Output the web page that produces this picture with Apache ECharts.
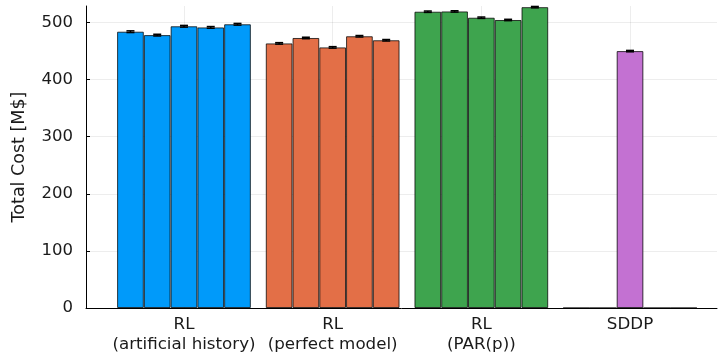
<!DOCTYPE html>
<html>
<head>
<meta charset="utf-8">
<script src="https://cdn.jsdelivr.net/npm/echarts@6/dist/echarts.min.js"></script>
<style>
  html, body { margin: 0; padding: 0; background: #fff; }
  #chart { width: 718px; height: 356px; }
</style>
</head>
<body>
<div id="chart"></div>
<script>
// Group labels on the x axis
const categories = ['RL\n(artificial history)', 'RL\n(perfect model)', 'RL\n(PAR(p))', 'SDDP'];

// Total cost per run [M$], five runs per method
const rlArtificial = [484, 478, 493.5, 491.5, 497];
const rlPerfect    = [463.5, 473, 456.5, 476, 469];
const rlPar        = [519, 519.5, 508.5, 504.5, 527];
const sddp         = [0, 0, 450, 0, 0];

// Standard errors per run
const errArtificial = [1.5, 1.5, 1.5, 1.5, 1.5];
const errPerfect    = [1.3, 1.3, 1.3, 1.3, 1.3];
const errPar        = [1.2, 1.2, 1.2, 1.2, 1.2];
const errSddp       = [0, 0, 1.2, 0, 0];

// Y tick values
const yTicks = [0, 100, 200, 300, 400, 500];

const groups = [rlArtificial, rlPerfect, rlPar, sddp];
const groupErrs = [errArtificial, errPerfect, errPar, errSddp];
const colors = ['#009AFA', '#E36F47', '#3EA44E', '#C371D2'];
const centers = categories.map((_, i) => i + 0.5);
const barStep = 0.18;

const barData = [];
const errData = [];
groups.forEach((vals, g) => {
  vals.forEach((v, j) => {
    const x = centers[g] + (j - 2) * barStep;
    barData.push({ value: [x, v], itemStyle: { color: colors[g] } });
    errData.push([x, v, groupErrs[g][j]]);
  });
});

const chart = echarts.init(document.getElementById('chart'), null, { renderer: 'canvas' });
const font = 'DejaVu Sans';
const textColor = '#1a1a1a';
const gridColor = 'rgba(0,0,0,0.07)';

chart.setOption({
  animation: false,
  backgroundColor: '#ffffff',
  grid: { left: 86, right: 1, top: 6, bottom: 48, containLabel: false, outerBoundsMode: 'none' },
  xAxis: {
    type: 'value',
    min: -0.159,
    max: 4.085,
    axisLine: { show: true, onZero: false, lineStyle: { color: '#000', width: 1 } },
    axisTick: { show: false, customValues: centers },
    axisLabel: {
      customValues: centers,
      margin: 7,
      fontFamily: font, fontSize: 16.7, color: textColor, lineHeight: 20,
      formatter: v => {
        const i = Math.round(v - 0.5);
        return categories[i] !== undefined ? categories[i] : '';
      }
    },
    splitLine: { show: true, lineStyle: { color: gridColor, width: 1 } }
  },
  yAxis: {
    type: 'value',
    min: 0,
    max: 529,
    name: 'Total Cost [M$]',
    nameLocation: 'middle',
    nameGap: 58,
    nameRotate: 90,
    nameTextStyle: { fontFamily: font, fontSize: 17.5, color: textColor },
    axisLine: { show: true, onZero: false, lineStyle: { color: '#000', width: 1 } },
    axisTick: { show: true, inside: true, length: 4, customValues: yTicks, lineStyle: { color: '#000' } },
    axisLabel: { customValues: yTicks, margin: 13, fontFamily: font, fontSize: 16.5, color: textColor },
    splitLine: { show: true, lineStyle: { color: gridColor, width: 1 } }
  },
  series: [
    {
      type: 'bar',
      barWidth: 26.7,
      data: barData,
      itemStyle: { borderColor: 'rgba(0,0,0,0.75)', borderWidth: 1 }
    },
    {
      type: 'custom',
      data: errData,
      z: 5,
      renderItem: (params, api) => {
        const x = api.value(0), y = api.value(1), e = api.value(2);
        if (!(e > 0)) return null;
        const top = api.coord([x, y + e]);
        const bot = api.coord([x, y - e]);
        const half = 4;
        const style = { stroke: '#000', lineWidth: 1.5 };
        return {
          type: 'group',
          children: [
            { type: 'line', shape: { x1: top[0], y1: top[1], x2: bot[0], y2: bot[1] }, style },
            { type: 'line', shape: { x1: top[0] - half, y1: top[1], x2: top[0] + half, y2: top[1] }, style },
            { type: 'line', shape: { x1: bot[0] - half, y1: bot[1], x2: bot[0] + half, y2: bot[1] }, style }
          ]
        };
      }
    }
  ]
});
</script>
</body>
</html>
